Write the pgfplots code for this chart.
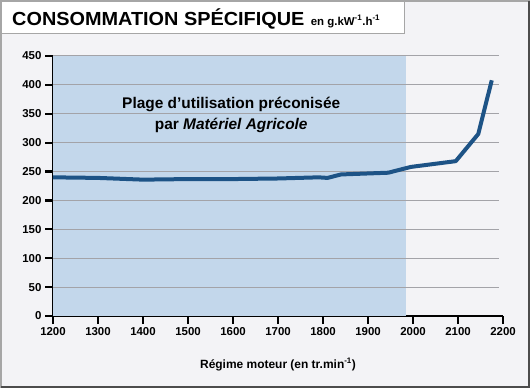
\documentclass[border=0pt]{standalone}
\usepackage{fontspec}
\setmainfont{Liberation Sans}
\newfontfamily\titlefont{Liberation Sans}[FakeStretch=1.05]
\usepackage{pgfplots}
\pgfplotsset{compat=1.18}
\definecolor{bgc}{HTML}{F3F3F6}
\definecolor{shadec}{HTML}{C3D7EB}
\definecolor{linec}{HTML}{1D5386}
\definecolor{gridc}{HTML}{A3A3A8}
\begin{document}
\begin{tikzpicture}[x=1bp,y=1bp]
\fill[bgc] (0,0) rectangle (530,388);
\draw[gray!70, line width=1.5bp] (1,1) rectangle (529,387);
\draw[black!70, line width=2bp] (1,1) -- (529,1) -- (529,387);
\fill[white] (2,355) rectangle (404,386);
\draw[gray!70, line width=1bp] (2,355) -- (404,355) -- (404,387);
\node[anchor=base west, inner sep=0pt] at (12,363) {\titlefont\bfseries\fontsize{19}{20}\selectfont CONSOMMATION SPÉCIFIQUE\normalfont\bfseries\fontsize{11.5}{12}\selectfont\ \ en g.kW\textsuperscript{-1}.h\textsuperscript{-1}};
\begin{axis}[
  at={(53bp,72bp)}, anchor=south west, scale only axis,
  width=450bp, height=260bp,
  xmin=1200, xmax=2200, ymin=0, ymax=450,
  axis x line*=bottom, axis y line*=left,
  axis line style={line width=2.2bp, black},
  xtick={1200,1300,...,2200}, ytick={0,50,...,450},
  tick align=outside, major tick length=8bp,
  every major tick/.append style={line width=2.2bp, black},
  /pgf/number format/assume math mode=true,
  /pgf/number format/set thousands separator={},
  ticklabel style={font=\bfseries\fontsize{11.5}{12}\selectfont},
  xlabel={Régime moteur (en tr.min\textsuperscript{-1})},
  xlabel style={font=\bfseries\fontsize{12}{13}\selectfont, yshift=-16bp},
  clip=false,
]
\addplot[fill=shadec, draw=none] coordinates {(1200,0) (1985,0) (1985,450) (1200,450)} -- cycle;
\pgfplotsinvokeforeach{50,100,...,450}{
  \draw[gridc, line width=1bp] (axis cs:1200,#1) -- (axis cs:2190,#1);
}
\addplot[linec, line width=4bp, line join=round] coordinates {
(1200,240) (1300,239) (1400,236) (1500,237) (1600,237) (1700,238)
(1790,240) (1810,239) (1840,245) (1945,248) (1995,258) (2095,268)
(2145,315) (2175,408)};
\node[align=center, font=\bfseries\fontsize{15.5}{21}\selectfont] at (axis cs:1596,348) {Plage d’utilisation préconisée\\par \textit{Matériel Agricole}};
\end{axis}
\end{tikzpicture}
\end{document}
